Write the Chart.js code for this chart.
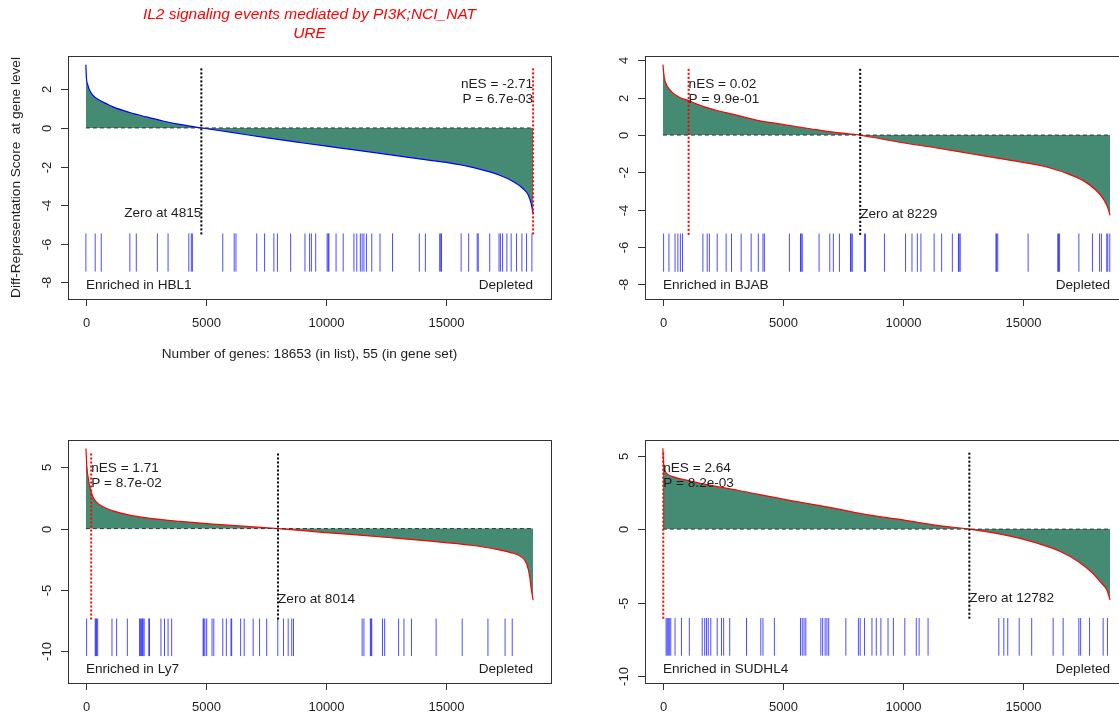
<!DOCTYPE html>
<html>
<head>
<meta charset="utf-8">
<title>IL2 signaling events mediated by PI3K</title>
<script src="https://cdn.jsdelivr.net/npm/chart.js@4/dist/chart.umd.min.js"></script>
<style>
  html, body { margin: 0; padding: 0; background: #fff; overflow: hidden; }
  body { width: 1119px; height: 715px; position: relative; }
  canvas { position: absolute; left: 0; top: 0; }
</style>
</head>
<body>
<canvas id="p1" width="1200" height="715"></canvas>
<canvas id="p2" width="1200" height="715"></canvas>
<canvas id="p3" width="1200" height="715"></canvas>
<canvas id="p4" width="1200" height="715"></canvas>
<script>
// ---- data ----
const GENES = 18653;
const xTickValues = [0, 5000, 10000, 15000];

const cellLines = ['HBL1', 'BJAB', 'Ly7', 'SUDHL4'];
const nesValues = [-2.71, 0.02, 1.71, 2.64];
const pValues = ['6.7e-03', '9.9e-01', '8.7e-02', '8.2e-03'];
const zeroCrossings = [4815, 8229, 8014, 12782];
const leadingEdges = [18653, 1073, 220, 15];

// ranked gene score curves (rank, score)
const hbl1Rank = [0, 15, 85, 155, 294, 572, 851, 1129, 1825, 2521, 3216, 3912, 4815, 6081, 7572, 9062, 10553, 12043, 13534, 15024, 16217, 17260, 17856, 18229, 18453, 18572, 18653];
const hbl1Score = [3.28, 2.72, 2.21, 1.95, 1.69, 1.43, 1.26, 1.09, 0.80, 0.57, 0.36, 0.18, 0, -0.23, -0.52, -0.78, -1.03, -1.28, -1.54, -1.79, -2.07, -2.45, -2.80, -3.14, -3.49, -3.92, -4.45];

const bjabRank = [0, 56, 167, 376, 723, 1043, 1558, 2253, 2949, 3905, 5008, 6141, 7185, 8229, 9122, 10002, 11358, 12848, 14339, 15010, 15830, 16873, 17618, 18065, 18363, 18542, 18653];
const bjabScore = [3.78, 3.10, 2.66, 2.30, 2.00, 1.86, 1.59, 1.32, 1.11, 0.80, 0.57, 0.34, 0.14, 0, -0.21, -0.41, -0.68, -1.00, -1.32, -1.46, -1.66, -2.07, -2.51, -2.96, -3.41, -3.85, -4.30];

const ly7Rank = [0, 42, 111, 181, 292, 431, 709, 1127, 1822, 2518, 3909, 5300, 6691, 8014, 9062, 10002, 11298, 12789, 14279, 14995, 16068, 16962, 17707, 18155, 18379, 18513, 18572, 18653];
const ly7Score = [6.55, 5.05, 3.96, 3.28, 2.60, 2.19, 1.78, 1.45, 1.10, 0.88, 0.59, 0.37, 0.18, 0, -0.16, -0.33, -0.52, -0.76, -1.01, -1.14, -1.36, -1.63, -1.96, -2.31, -2.86, -3.95, -4.90, -5.85];

const sudhl4Rank = [0, 30, 75, 179, 477, 924, 1669, 3160, 5008, 6886, 8377, 10002, 11358, 12782, 13594, 14339, 15010, 15830, 16575, 17320, 17916, 18289, 18513, 18653];
const sudhl4Score = [5.51, 4.49, 4.04, 3.76, 3.54, 3.36, 3.08, 2.63, 2.04, 1.50, 1.02, 0.63, 0.27, 0, -0.20, -0.43, -0.68, -1.07, -1.52, -2.20, -2.99, -3.67, -4.13, -4.81];

// gene set member positions in each ranked list
const hbl1Hits = [0, 388, 641, 1833, 2102, 2981, 3428, 4293, 4397, 4442, 5709, 6186, 6260, 7125, 7453, 7840, 7989, 8541, 9137, 9331, 9405, 9584, 10061, 10106, 10136, 10434, 10732, 11179, 11298, 11447, 11522, 11596, 11701, 11924, 12267, 12789, 13907, 14160, 14756, 14801, 14831, 15651, 15964, 16321, 16366, 16843, 17231, 17290, 17380, 17559, 17738, 17961, 18185, 18379, 18602];
const bjabHits = [30, 253, 507, 626, 730, 820, 1669, 1848, 1938, 2266, 2638, 2862, 3264, 3682, 3980, 4174, 4233, 5276, 5739, 5768, 5813, 6514, 6961, 7110, 7363, 7825, 7855, 7900, 8407, 8451, 9241, 10121, 10389, 10613, 10762, 11313, 11626, 12073, 12327, 12356, 12401, 13892, 13922, 13967, 15233, 16470, 16500, 16545, 17350, 17916, 18214, 18289, 18513, 18557, 18640];
const ly7Hits = [30, 388, 417, 447, 492, 1088, 1282, 1729, 2236, 2281, 2325, 2355, 2385, 2430, 2623, 2653, 3130, 3279, 3428, 3577, 4889, 4919, 4963, 5038, 5262, 5336, 5709, 5858, 6052, 6081, 6454, 6603, 6976, 7244, 7542, 8004, 8243, 8437, 8586, 8660, 11522, 11596, 11864, 11894, 11924, 12371, 12461, 13042, 13266, 13579, 14607, 15695, 16769, 17484, 17782];
const sudhl4Hits = [134, 179, 224, 268, 328, 507, 775, 1103, 1640, 1744, 1818, 1893, 1997, 2266, 2444, 2534, 2787, 3488, 4084, 4174, 4650, 5739, 5813, 5888, 5962, 6588, 6663, 6767, 6842, 6916, 7631, 8153, 8228, 8407, 8720, 8899, 9092, 9390, 9614, 10091, 10568, 10687, 11060, 14011, 14220, 14384, 14861, 15382, 16277, 16694, 17350, 17424, 17797, 18363, 18542];

const hbl1YTicks = [-8, -6, -4, -2, 0, 2];
const bjabYTicks = [-8, -6, -4, -2, 0, 2, 4];
const ly7YTicks = [-10, -5, 0, 5];
const sudhl4YTicks = [-10, -5, 0, 5];

// ---- layout / style ----
const TICK_FONT = '13px "Liberation Sans", Arial, sans-serif';
const FONT = '13.6px "Liberation Sans", Arial, sans-serif';
const INK = '#1e1e1e';
const FILL = '#458b74';
const X_RANGE = [-746, 19399];

const panels = [
  { canvas: 'p1', rank: hbl1Rank, score: hbl1Score, hits: hbl1Hits, yTicks: hbl1YTicks,
    area: { left: 68, top: 56, right: 551, bottom: 299 }, yRange: [-8.87, 3.73],
    curveColor: '#0000ff', hitBand: [-7.45, -5.47], lineBand: [-5.52, 3.16],
    statsY: [2.29, 1.48], statsAlign: 'right', zeroY: -4.43, zeroAlign: 'right', footY: -8.14 },
  { canvas: 'p2', rank: bjabRank, score: bjabScore, hits: bjabHits, yTicks: bjabYTicks,
    area: { left: 645, top: 56, right: 1128, bottom: 299 }, yRange: [-8.79, 4.24],
    curveColor: '#ff0000', hitBand: [-7.33, -5.28], lineBand: [-5.35, 3.64],
    statsY: [2.75, 1.91], statsAlign: 'left', zeroY: -4.24, zeroAlign: 'left', footY: -8.04 },
  { canvas: 'p3', rank: ly7Rank, score: ly7Score, hits: ly7Hits, yTicks: ly7YTicks,
    area: { left: 68, top: 440, right: 551, bottom: 683 }, yRange: [-12.62, 7.24],
    curveColor: '#ff0000', hitBand: [-10.42, -7.35], lineBand: [-7.43, 6.26],
    statsY: [4.91, 3.74], statsAlign: 'left', zeroY: -5.77, zeroAlign: 'left', footY: -11.51 },
  { canvas: 'p4', rank: sudhl4Rank, score: sudhl4Score, hits: sudhl4Hits, yTicks: sudhl4YTicks,
    area: { left: 645, top: 440, right: 1128, bottom: 683 }, yRange: [-10.48, 6.07],
    curveColor: '#ff0000', hitBand: [-8.62, -6.05], lineBand: [-6.1, 5.28],
    statsY: [4.15, 3.13], statsAlign: 'left', zeroY: -4.74, zeroAlign: 'left', footY: -9.52 }
];

function text(ctx, str, x, y, align) {
  ctx.textAlign = align;
  ctx.textBaseline = 'middle';
  ctx.fillText(str, x, y);
}

// R style box, axes and in-plot labels
function frame(panel, i) {
  return {
    id: 'frame',
    afterDraw(chart) {
      const { ctx, chartArea: a } = chart;
      const x = chart.scales.x, y = chart.scales.y;
      ctx.save();
      ctx.strokeStyle = '#333';
      ctx.lineWidth = 1;
      ctx.strokeRect(a.left + 0.5, a.top + 0.5, a.right - a.left, a.bottom - a.top);

      ctx.font = TICK_FONT;
      ctx.fillStyle = INK;
      x.ticks.forEach(t => {
        const px = Math.round(x.getPixelForValue(t.value)) + 0.5;
        ctx.beginPath();
        ctx.moveTo(px, a.bottom);
        ctx.lineTo(px, a.bottom + 7);
        ctx.stroke();
        text(ctx, String(t.value), px, a.bottom + 24, 'center');
      });
      y.ticks.forEach(t => {
        const py = Math.round(y.getPixelForValue(t.value)) + 0.5;
        ctx.beginPath();
        ctx.moveTo(a.left - 7, py);
        ctx.lineTo(a.left, py);
        ctx.stroke();
        ctx.save();
        ctx.translate(a.left - 21, py);
        ctx.rotate(-Math.PI / 2);
        text(ctx, String(t.value), 0, 0, 'center');
        ctx.restore();
      });

      // annotations
      ctx.font = FONT;
      const edge = x.getPixelForValue(leadingEdges[i]);
      text(ctx, 'nES = ' + nesValues[i].toFixed(2), edge, y.getPixelForValue(panel.statsY[0]), panel.statsAlign);
      text(ctx, 'P = ' + pValues[i], edge, y.getPixelForValue(panel.statsY[1]), panel.statsAlign);
      text(ctx, 'Zero at ' + zeroCrossings[i], x.getPixelForValue(zeroCrossings[i]),
           y.getPixelForValue(panel.zeroY), panel.zeroAlign);
      text(ctx, 'Enriched in ' + cellLines[i], x.getPixelForValue(0), y.getPixelForValue(panel.footY), 'left');
      text(ctx, 'Depleted', x.getPixelForValue(GENES), y.getPixelForValue(panel.footY), 'right');

      if (i === 0) {
        const cx = (a.left + a.right) / 2;
        ctx.fillStyle = '#ff0000';
        ctx.font = 'italic 15.5px "Liberation Sans", Arial, sans-serif';
        text(ctx, 'IL2 signaling events mediated by PI3K;NCI_NAT', cx, 15, 'center');
        text(ctx, 'URE', cx, 33.5, 'center');
        ctx.fillStyle = INK;
        ctx.font = FONT;
        text(ctx, 'Number of genes: 18653 (in list), 55 (in gene set)', cx, a.bottom + 55, 'center');
        ctx.save();
        ctx.translate(16, (a.top + a.bottom) / 2);
        ctx.rotate(-Math.PI / 2);
        text(ctx, 'Diff-Representation Score  at gene level', 0, 0, 'center');
        ctx.restore();
      }
      ctx.restore();
    }
  };
}

panels.forEach((p, i) => {
  const vline = (xv, color) => ({
    data: [{ x: xv, y: p.lineBand[0] }, { x: xv, y: p.lineBand[1] }],
    borderColor: color, borderWidth: 2, borderDash: [2, 2], pointRadius: 0, fill: false
  });

  new Chart(document.getElementById(p.canvas), {
    type: 'line',
    data: {
      datasets: [
        {
          // gene set members
          data: p.hits.flatMap(h => [{ x: h, y: p.hitBand[0] }, { x: h, y: p.hitBand[1] }, { x: h, y: null }]),
          borderColor: 'rgba(0, 0, 255, 0.7)', borderWidth: 1, pointRadius: 0, fill: false, spanGaps: false
        },
        vline(leadingEdges[i], '#ff0000'),
        vline(zeroCrossings[i], '#000000'),
        {
          data: [{ x: 0, y: 0 }, { x: GENES, y: 0 }],
          borderColor: '#333', borderWidth: 1, borderDash: [4, 3], pointRadius: 0, fill: false
        },
        {
          data: p.rank.map((r, k) => ({ x: r, y: p.score[k] })),
          borderColor: p.curveColor, borderWidth: 1.2, backgroundColor: FILL,
          fill: 'origin', pointRadius: 0, cubicInterpolationMode: 'monotone'
        }
      ]
    },
    options: {
      responsive: false,
      animation: false,
      events: [],
      layout: {
        padding: { left: p.area.left, top: p.area.top, right: 1200 - p.area.right, bottom: 715 - p.area.bottom }
      },
      plugins: { legend: { display: false }, tooltip: { enabled: false } },
      scales: {
        x: {
          type: 'linear', display: false, min: X_RANGE[0], max: X_RANGE[1],
          afterBuildTicks: s => { s.ticks = xTickValues.map(v => ({ value: v })); }
        },
        y: {
          type: 'linear', display: false, min: p.yRange[0], max: p.yRange[1],
          afterBuildTicks: s => { s.ticks = p.yTicks.map(v => ({ value: v })); }
        }
      }
    },
    plugins: [frame(p, i)]
  });
});
</script>
</body>
</html>
